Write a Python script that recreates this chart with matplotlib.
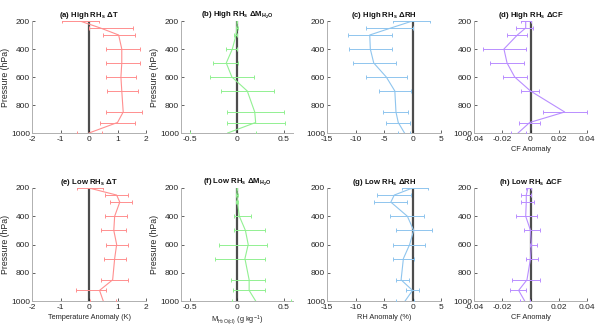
import matplotlib
matplotlib.use("Agg")
import matplotlib.pyplot as plt
import numpy as np

plt.rcParams['font.family'] = ['Liberation Sans', 'DejaVu Sans']
plt.rcParams['mathtext.fontset'] = 'custom'
plt.rcParams['mathtext.rm'] = 'Liberation Sans'
plt.rcParams['mathtext.it'] = 'Liberation Sans:italic'
plt.rcParams['mathtext.bf'] = 'Liberation Sans:bold'
plt.rcParams['axes.unicode_minus'] = False

# ---------------- data ----------------
levels = [200, 250, 300, 400, 500, 600, 700, 850, 925, 1000]

# (a) High RHs dT
a_mean = [-0.32, 0.40, 1.04, 1.15, 1.15, 1.12, 1.15, 1.20, 1.00, 0.00]
a_lo = [-0.96, 0.01, 0.50, 0.60, 0.60, 0.60, 0.62, 0.60, 0.39, -0.41]
a_hi = [0.36, 1.56, 1.62, 1.80, 1.78, 1.66, 1.72, 1.86, 1.62, 0.45]
# (b) High RHs dM_H2O
b_mean = [0.0, 0.0, -0.01, -0.05, -0.115, -0.055, 0.11, 0.19, 0.20, -0.10]
b_lo = [0.0, -0.01, -0.03, -0.115, -0.257, -0.29, -0.17, -0.11, -0.11, -0.50]
b_hi = [0.0, 0.01, 0.003, 0.003, 0.014, 0.18, 0.395, 0.50, 0.51, 0.20]
# (c) High RHs dRH
c_mean = [0.0, -3.8, -7.5, -7.4, -6.8, -4.6, -3.1, -2.9, -2.5, -1.4]
c_lo = [-3.5, -8.2, -11.3, -11.1, -10.4, -8.2, -5.9, -5.2, -4.6, -2.6]
c_hi = [3.0, 0.0, -3.6, -3.6, -2.9, -1.0, -0.3, -0.8, -0.4, -0.4]
# (d) High RHs dCF
d_mean = [-0.0034, -0.0034, -0.0093, -0.0188, -0.0166, -0.0112, 0.0, 0.0242, -0.0006, -0.0088]
d_lo = [-0.007, -0.010, -0.0165, -0.0336, -0.0284, -0.0195, -0.007, 0.0088, -0.008, -0.014]
d_hi = [0.0, 0.0018, -0.0025, -0.0034, -0.0046, -0.0022, 0.006, 0.040, 0.0065, -0.003]
# (e) Low RHs dT
e_mean = [0.0, 0.97, 1.08, 0.90, 0.87, 0.97, 0.90, 0.83, 0.37, 0.50]
e_lo = [-0.43, 0.55, 0.73, 0.55, 0.43, 0.59, 0.52, 0.43, -0.46, 0.05]
e_hi = [0.49, 1.38, 1.50, 1.32, 1.30, 1.36, 1.30, 1.36, 0.61, 0.95]
# (f) Low RHs dM_H2O
f_mean = [0.0, 0.0, 0.005, 0.025, 0.09, 0.12, 0.085, 0.13, 0.13, 0.20]
f_lo = [0.0, -0.01, -0.01, -0.03, -0.03, -0.19, -0.24, -0.06, -0.04, -0.05]
f_hi = [0.0, 0.01, 0.015, 0.155, 0.30, 0.32, 0.30, 0.30, 0.30, 0.58]
# (g) Low RHs dRH
g_mean = [0.0, -3.2, -3.8, -0.9, 0.2, -0.5, -1.6, -2.0, 0.0, -1.3]
g_lo = [-1.9, -6.2, -6.8, -3.9, -2.9, -3.5, -3.5, -2.9, -1.2, -2.9]
g_hi = [2.8, -0.3, -1.0, 2.1, 3.5, 2.2, 0.2, -0.7, 1.1, 0.2]
# (h) Low RHs dCF
h_mean = [-0.0018, -0.003, -0.003, -0.0034, 0.0, 0.0006, 0.0, -0.0025, -0.0084, -0.0041]
h_lo = [-0.003, -0.0065, -0.007, -0.0105, -0.0046, -0.0006, -0.0034, -0.0129, -0.0143, -0.0072]
h_hi = [0.0006, 0.0006, 0.0022, 0.0046, 0.007, 0.0046, 0.0053, 0.007, -0.003, -0.0006]

titles = [r"(a) High RH$_\mathbf{s}$ ΔT",
          r"(b) High RH$_\mathbf{s}$ ΔM$_\mathbf{H_2O}$",
          r"(c) High RH$_\mathbf{s}$ ΔRH",
          r"(d) High RH$_\mathbf{s}$ ΔCF",
          r"(e) Low RH$_\mathbf{s}$ ΔT",
          r"(f) Low RH$_\mathbf{s}$ ΔM$_\mathbf{H_2O}$",
          r"(g) Low RH$_\mathbf{s}$ ΔRH",
          r"(h) Low RH$_\mathbf{s}$ ΔCF"]
xlabels = ["", "", "", "CF Anomaly",
           "Temperature Anomaly (K)", r"M$_{\mathrm{H_2O(cl)}}$ (g kg$^{-1}$)",
           "RH Anomaly (%)", "CF Anomaly"]

t_ticks = [-2, -1, 0, 1, 2]
t_labels = ["-2", "-1", "0", "1", "2"]
m_ticks = [-0.5, 0, 0.5]
m_labels = ["-0.5", "0", "0.5"]
rh_ticks = [-15, -10, -5, 0, 5]
rh_labels = ["-15", "-10", "-5", "0", "5"]
cf_ticks = [-0.04, -0.02, 0, 0.02, 0.04]
cf_labels = ["-0.04", "-0.02", "0", "0.02", "0.04"]
p_ticks = [200, 400, 600, 800, 1000]
p_labels = ["200", "400", "600", "800", "1000"]

colors = ["#ff8f8f", "#92f092", "#8fc5ee", "#b98eff"]

panels = [
    (a_mean, a_lo, a_hi), (b_mean, b_lo, b_hi), (c_mean, c_lo, c_hi), (d_mean, d_lo, d_hi),
    (e_mean, e_lo, e_hi), (f_mean, f_lo, f_hi), (g_mean, g_lo, g_hi), (h_mean, h_lo, h_hi),
]
xticks = [(t_ticks, t_labels, (-2, 2)), (m_ticks, m_labels, (-0.6, 0.6)),
          (rh_ticks, rh_labels, (-15, 5)), (cf_ticks, cf_labels, (-0.04, 0.04))]

fig = plt.figure(figsize=(6.0, 3.33), dpi=100)
W, H = 600.0, 333.0
lefts = [32, 181, 327, 474]
widths = [114, 112, 114, 113]
rows = [(21, 133), (188, 301)]

for i in range(8):
    r, c = divmod(i, 4)
    top, bot = rows[r]
    ax = fig.add_axes([lefts[c] / W, 1 - bot / H, widths[c] / W, (bot - top) / H])
    mean, lo, hi = panels[i]
    mean = np.array(mean); lo = np.array(lo); hi = np.array(hi)
    col = colors[c]
    ax.plot([0, 0], [200, 1000], color="#4d4d4d", lw=1.6, zorder=1)
    ax.errorbar(mean, levels, xerr=[mean - lo, hi - mean], color=col, ecolor=col,
                lw=0.8, elinewidth=0.7, capsize=1.3, capthick=0.7, zorder=3)
    tk, tl, lim = xticks[c]
    ax.set_xlim(*lim)
    ax.set_xticks(tk)
    ax.set_xticklabels(tl)
    ax.set_ylim(1000, 200)
    ax.set_yticks(p_ticks)
    ax.set_yticklabels(p_labels)
    ax.tick_params(direction='in', length=2, width=0.5, labelsize=6, colors="#262626")
    ax.tick_params(axis='x', pad=2.5)
    ax.tick_params(axis='y', pad=1.5)
    for s in ['top', 'right']:
        ax.spines[s].set_visible(False)
    for s in ['left', 'bottom']:
        ax.spines[s].set_color("#b0b0b0")
        ax.spines[s].set_linewidth(0.7)
    ax.set_title(titles[i], fontsize=5.6, fontweight='bold', pad=2, color="#111111")
    if xlabels[i]:
        ax.set_xlabel(xlabels[i], fontsize=5.3, labelpad=1.5, color="#262626")
    if c in (0, 1):
        ax.set_ylabel("Pressure (hPa)", fontsize=6.3, labelpad=1, color="#262626")

fig.savefig("out.png", dpi=100)
